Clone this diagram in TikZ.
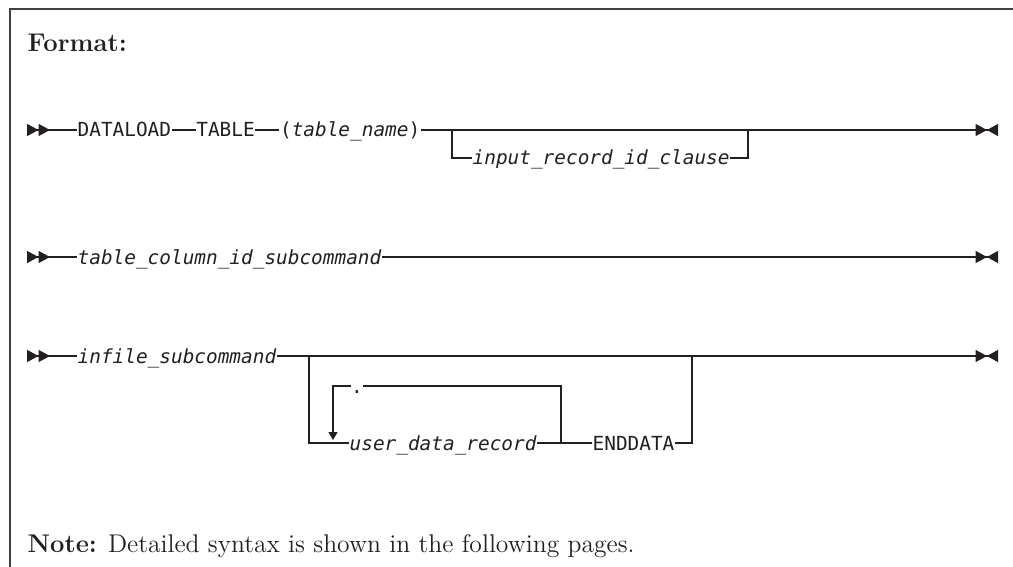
\documentclass[tikz,border=0pt]{standalone}
\usepackage{fontspec}
\newfontfamily\synfont{DejaVu Sans Mono}[ItalicFont={DejaVu Sans Mono Oblique}]
\usetikzlibrary{arrows.meta,positioning}
\definecolor{ink}{RGB}{35,31,32}
\newcommand{\var}[1]{\textit{#1}}

\begin{document}
\begin{tikzpicture}[x=0.5pt,y=-0.5pt,node distance=12pt,color=ink,line width=0.65pt, every node/.style={inner sep=0pt,text height=7pt,text depth=0pt,font=\synfont\fontsize{9.7}{11}\selectfont}, kw/.style={anchor=west}, prose/.style={anchor=base west,text height=,text depth=,font=\rmfamily\fontsize{12.8}{15}\selectfont}, frame/.style={draw=black!75,line width=0.75pt}, startmark/.style={{Triangle[reversed,length=5.75pt,width=6pt]Triangle[reversed,length=5.75pt,width=6pt]}-}, endmark/.style={-{Triangle[length=5.75pt,width=6pt]Triangle[reversed,length=5.5pt,width=6pt]}}, loopar/.style={-{Triangle[length=4pt,width=4.5pt]}}, heavy/.style={line width=1.1pt}]
\useasboundingbox (0,0) rectangle (1013,567);
\draw[frame] (10,567) -- (10,9) -- (1013,9);
\node[prose] (fmt) at (27,52) {\bfseries Format:};
\coordinate (s1) at (27,130);
\node[kw] (dataload) at (77,130) {DATALOAD};
\node[right=of dataload] (table) {TABLE};
\node[right=of table] (tname) {(\var{table\_name})};
\node[kw] (clause) at (472,158) {\var{input\_record\_id\_clause}};
\coordinate (b1l) at (452,130);
\coordinate (b1r) at (748,130);
\coordinate (h1a) at (752,130);
\coordinate (h1b) at (780,130);
\coordinate (e1) at (998,130);
\draw[startmark] (s1) -- (dataload);
\draw (dataload) -- (table);
\draw (table) -- (tname);
\draw[endmark] (tname) -- (e1);
\draw (b1l) |- (clause);
\draw (clause) -| (b1r);
\draw[heavy] (h1a) -- (h1b);
\coordinate (s2) at (27,257);
\node[kw] (colid) at (77,257) {\var{table\_column\_id\_subcommand}};
\coordinate (h2a) at (396,257);
\coordinate (h2b) at (410,257);
\coordinate (e2) at (998,257);
\draw[startmark] (s2) -- (colid);
\draw[endmark] (colid) -- (e2);
\draw[heavy] (h2a) -- (h2b);
\coordinate (s3) at (27,356);
\node[kw] (infile) at (77,356) {\var{infile\_subcommand}};
\node[kw] (udr) at (349,443) {\var{user\_data\_record}};
\node[kw] (enddata) at (592,443) {ENDDATA};
\node (dot) at (357,386) {.};
\coordinate (b3l) at (309,356);
\coordinate (b3r) at (692,356);
\coordinate (lpr) at (561,443);
\coordinate (lpl) at (333,386);
\coordinate (lpd) at (333,440);
\coordinate (h3a) at (698,356);
\coordinate (h3b) at (722,356);
\coordinate (e3) at (998,356);
\draw[startmark] (s3) -- (infile);
\draw[endmark] (infile) -- (e3);
\draw (b3l) |- (udr);
\draw (udr) -- (enddata);
\draw (enddata) -| (b3r);
\draw (lpr) |- (dot);
\draw[loopar] (dot) -- (lpl) -- (lpd);
\draw[heavy] (h3a) -- (h3b);
\node[prose] (note) at (27,552) {\textbf{Note:} Detailed syntax is shown in the following pages.};
\end{tikzpicture}
\end{document}
